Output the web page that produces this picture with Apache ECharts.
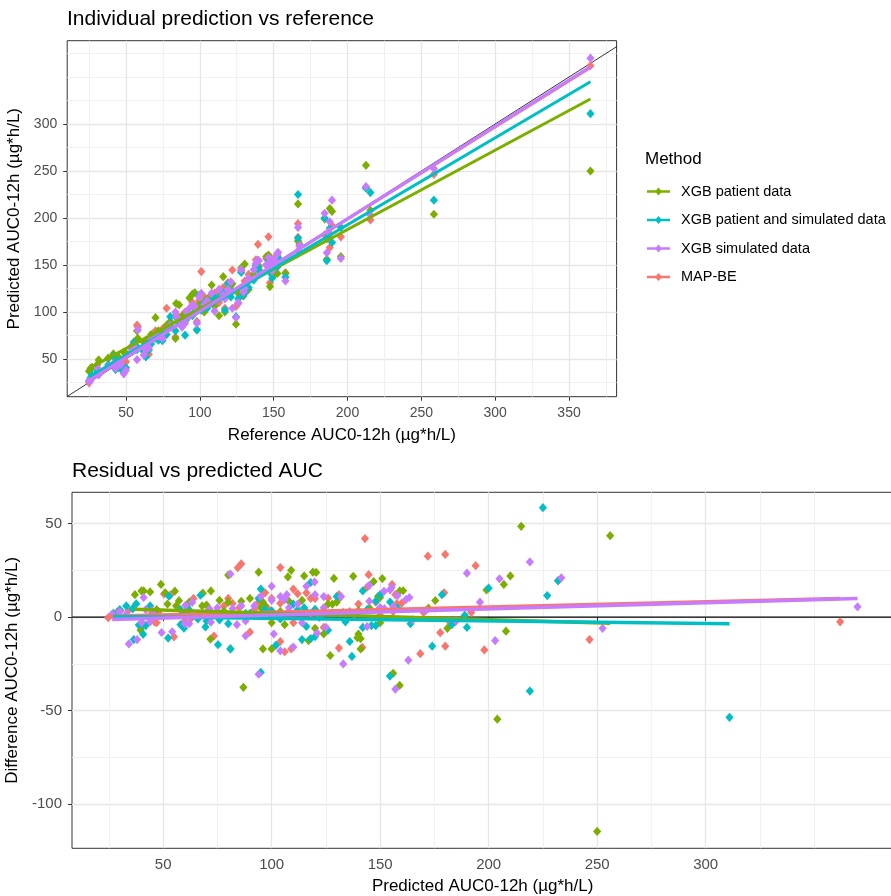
<!DOCTYPE html>
<html>
<head>
<meta charset="utf-8">
<script src="https://cdn.jsdelivr.net/npm/echarts@6/dist/echarts.min.js"></script>
<style>html,body{margin:0;padding:0;background:#fff}#c{width:891px;height:896px}</style>
</head>
<body>
<div id="c"></div>
<script>
// ---------- data ----------
const methods = ['XGB patient data', 'XGB patient and simulated data', 'XGB simulated data', 'MAP-BE'];
const colors = ['#7CAE00', '#00BFC4', '#C77CFF', '#F8766D'];

const reference = [25.0, 26.0, 27.0, 30.5, 31.5, 38.0, 41.5, 43.0, 45.0, 46.5, 48.5, 50.0, 54.0, 55.5, 57.5, 58.0,
  62.0, 63.5, 65.5, 67.0, 70.0, 72.0, 74.7, 77.5, 80.0, 83.5, 84.0, 86.0, 88.0, 90.0, 91.0, 93.0, 95.0, 96.6, 98.0,
  99.5, 101.0, 103.0, 105.0, 108.0, 110.0, 113.0, 115.8, 117.0, 119.0, 121.0, 122.0, 124.5, 126.0, 128.0, 129.5,
  130.4, 133.0, 136.5, 138.0, 139.4, 140.0, 145.0, 146.5, 147.5, 149.0, 150.5, 152.5, 153.0, 158.0, 166.5, 166.5,
  167.5, 184.5, 186.0, 187.0, 188.0, 189.5, 195.5, 212.5, 215.5, 258.5, 364.5];
const predXgbPatient = [37, 40, 41, 44, 49, 51, 55.4, 47, 52, 39.6, 57.3, 56, 62, 68.3, 80, 72,
  68, 70, 67, 76, 94, 80, 78, 86, 90, 71.8, 109, 107.5, 96, 95, 97, 115, 119, 120.5, 81,
  108, 104, 100, 114, 128.7, 106, 96, 137.6, 100, 126, 128, 130, 87, 120, 147, 117,
  151, 124, 140, 149, 150, 145, 159, 160.6, 127, 140, 139.5, 141, 150, 141, 215, 175.4,
  172.3, 199, 156, 181, 210, 207, 159, 256, 208, 204, 250];
const predXgbBoth = [27, 30, 33, 37.6, 36, 44, 52.7, 38.8, 41, 42, 36.5, 40.8, 58, 67.2, 60, 62,
  58, 52.3, 59.6, 66, 72, 70, 69.5, 76, 95, 80, 94, 88, 90, 75.3, 92, 97, 96, 100, 81,
  118, 102, 110, 104, 112, 115, 116, 120, 102, 130, 116, 122, 95, 114, 142, 118,
  120, 126, 134, 150, 148, 144, 150, 154.6, 142, 136, 146, 148, 158, 137, 225, 178.5,
  164, 200, 154.5, 183, 189, 174, 190, 232, 227, 219, 311];
const predXgbSim = [26.5, 27, 30, 41, 33, 42, 45, 40, 46, 44, 34.2, 38, 60.3, 63.4, 49.3, 81,
  54.2, 60, 62, 71.4, 75, 74, 72, 82, 86, 100, 95, 92, 84, 88, 100, 104, 107, 106, 88,
  116, 119.8, 108, 112, 120, 101, 124, 118, 114, 124, 132, 104, 94, 110, 145, 121,
  125, 136, 145, 151.8, 155.3, 154.6, 150, 158, 152, 144, 156, 162, 163.5, 133, 190, 165,
  171, 205, 163, 185, 196, 219, 157, 233.5, 203, 252.5, 370];
const predMapBe = [24.7, 28.8, 30.4, 34, 36, 50.4, 53.4, 44, 48, 45.7, 46, 47, 64, 61, 86, 84.4,
  60, 63, 55, 71, 80, 78, 82, 104, 85, 73.4, 97, 94, 92, 100, 96, 98, 110, 104, 90,
  112, 143, 116, 108, 118, 120, 110, 126, 104, 131, 131, 144.7, 106, 109, 144, 124,
  133, 140, 138, 155.5, 172, 148, 157, 180, 131, 150, 157.7, 160, 156, 141.8, 194, 179.5,
  170, 182, 177.7, 184.6, 168.5, 192, 180, 232, 198, 246.5, 362];
const predictions = [predXgbPatient, predXgbBoth, predXgbSim, predMapBe];

// fitted lines, end values
const topFitStart = [40, 31, 27, 27.5];      // predicted at smallest reference
const topFitEnd = [326.6, 345, 361, 360];   // predicted at largest reference
const botFitStart = [4.2, 0.3, -1.2, 0.5];  // difference at smallest prediction
const botFitEnd = [-3.3, -3.5, 10, 10];     // difference at largest prediction

// ticks
const topXMajor = [50, 100, 150, 200, 250, 300, 350];
const topXMinor = [25, 75, 125, 175, 225, 275, 325, 375];
const topYMajor = [50, 100, 150, 200, 250, 300];
const topYMinor = [25, 75, 125, 175, 225, 275, 325, 350, 375];
const botXMajor = [50, 100, 150, 200, 250, 300];
const botXMinor = [25, 75, 125, 175, 225, 275, 325, 350];
const botYMajor = [-100, -50, 0, 50];
const botYMinor = [-75, -25, 25];

// axis ranges
const topX = [10.2, 382.2], topY = [9.9, 388.6];
const botX = [8, 392], botY = [-123.5, 66.7];

// ---------- chart ----------
const FONT = "'Liberation Sans', Arial, Helvetica, sans-serif";
const chart = echarts.init(document.getElementById('c'));

function axisPair(gridIndex, range, majors, minors, labelSize, labelMargin, name, nameGap, pos, minorPos, namePad) {
  const main = {
    type: 'value', gridIndex, min: range[0], max: range[1], position: pos,
    name, nameLocation: 'middle', nameGap,
    nameTextStyle: { fontSize: 17, color: '#000', fontFamily: FONT, padding: namePad || 0 },
    axisLine: { show: false },
    axisTick: { show: true, inside: false, length: 4, lineStyle: { color: '#333', width: 1 }, customValues: majors },
    axisLabel: { customValues: majors, fontSize: labelSize, color: '#4D4D4D', margin: labelMargin, fontFamily: FONT },
    splitLine: { show: true, lineStyle: { color: '#E6E6E6', width: 1.3 } }
  };
  const minor = {
    type: 'value', gridIndex, min: range[0], max: range[1], position: minorPos,
    axisLine: { show: false },
    axisTick: { show: false, customValues: minors },
    axisLabel: { show: false },
    splitLine: { show: true, lineStyle: { color: '#EEEEEE', width: 0.9 } }
  };
  return [minor, main];
}

const xAxes = [
  ...axisPair(0, topX, topXMajor, topXMinor, 14, 9, 'Reference AUC0-12h (µg*h/L)', 30, 'bottom', 'top'),
  ...axisPair(1, botX, botXMajor, botXMinor, 15, 9, 'Predicted AUC0-12h (µg*h/L)', 30, 'bottom', 'top', [0, 12, 0, 0])
];
const yAxes = [
  ...axisPair(0, topY, topYMajor, topYMinor, 14, 10, 'Predicted AUC0-12h (µg*h/L)', 37, 'left', 'right'),
  ...axisPair(1, botY, botYMajor, botYMinor, 15, 10, 'Difference AUC0-12h (µg*h/L)', 42, 'left', 'right')
];
// main axes are index 1 (top) and 3 (bottom)

const series = [];
series.push({
  type: 'line', xAxisIndex: 1, yAxisIndex: 1, symbol: 'none', silent: true, z: 1,
  data: [[topX[0], topX[0]], [topX[1], topX[1]]],
  lineStyle: { color: '#000', width: 0.8 }
});
series.push({
  type: 'line', xAxisIndex: 3, yAxisIndex: 3, symbol: 'none', silent: true, z: 1,
  data: [[botX[0], 0], [botX[1], 0]],
  lineStyle: { color: '#000', width: 1.2 }
});

const drawOrder = [3, 0, 1, 2];
const refMin = Math.min(...reference), refMax = Math.max(...reference);
drawOrder.forEach(m => {
  const pred = predictions[m];
  series.push({
    name: methods[m], type: 'scatter', xAxisIndex: 1, yAxisIndex: 1, z: 2,
    symbol: 'diamond', symbolSize: [8.2, 9.2],
    itemStyle: { color: colors[m], opacity: 1 },
    data: reference.map((r, i) => [r, pred[i]])
  });
  series.push({
    name: methods[m], type: 'scatter', xAxisIndex: 3, yAxisIndex: 3, z: 2,
    symbol: 'diamond', symbolSize: [8.2, 9.2],
    itemStyle: { color: colors[m], opacity: 1 },
    data: reference.map((r, i) => [pred[i], +(pred[i] - r).toFixed(2)])
  });
});
drawOrder.forEach(m => {
  const pred = predictions[m];
  const pMin = Math.min(...pred), pMax = Math.max(...pred);
  series.push({
    name: methods[m], type: 'line', xAxisIndex: 1, yAxisIndex: 1, z: 3, symbol: 'none',
    lineStyle: { color: colors[m], width: 3 }, itemStyle: { color: colors[m] },
    data: [[refMin, topFitStart[m]], [refMax, topFitEnd[m]]]
  });
  series.push({
    name: methods[m], type: 'line', xAxisIndex: 3, yAxisIndex: 3, z: 3, symbol: 'none',
    lineStyle: { color: colors[m], width: 3.5 }, itemStyle: { color: colors[m] },
    data: [[pMin, botFitStart[m]], [pMax, botFitEnd[m]]]
  });
});

const legendIcon = 'path://M0,5.75 L23,5.75 L23,8.25 L0,8.25 Z M11.5,3 L15,7 L11.5,11 L8,7 Z';

chart.setOption({
  animation: false,
  backgroundColor: '#fff',
  textStyle: { fontFamily: FONT },
  title: [
    { text: 'Individual prediction vs reference', left: 67, top: 9, padding: 0,
      textStyle: { fontSize: 21, fontWeight: 'normal', color: '#000', fontFamily: FONT } },
    { text: 'Residual vs predicted AUC', left: 72, top: 461, padding: 0,
      textStyle: { fontSize: 21, fontWeight: 'normal', color: '#000', fontFamily: FONT } },
    { text: 'Method', left: 645, top: 151, padding: 0,
      textStyle: { fontSize: 17, fontWeight: 'normal', color: '#000', fontFamily: FONT } }
  ],
  legend: {
    orient: 'vertical', left: 647, top: 184, padding: 0,
    itemWidth: 23, itemHeight: 8, itemGap: 13.5,
    selectedMode: false,
    textStyle: { fontSize: 14.5, color: '#000', fontFamily: FONT, padding: [0, 0, 0, 6] },
    data: methods.map((m, i) => ({ name: m, icon: legendIcon, itemStyle: { color: colors[i] } }))
  },
  grid: [
    { left: 67.2, top: 40.7, width: 549.4, height: 356, show: true, borderColor: '#333', borderWidth: 1,
      backgroundColor: 'transparent', containLabel: false, outerBoundsMode: 'none' },
    { left: 72, top: 492.3, width: 2.17 * (botX[1] - botX[0]), height: 356, show: true, borderColor: '#333', borderWidth: 1,
      backgroundColor: 'transparent', containLabel: false, outerBoundsMode: 'none' }
  ],
  xAxis: xAxes,
  yAxis: yAxes,
  series
});
</script>
</body>
</html>
